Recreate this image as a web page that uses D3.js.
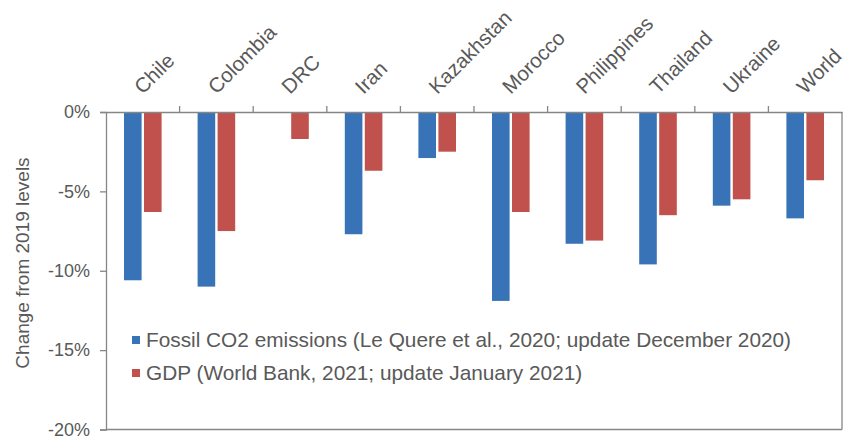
<!DOCTYPE html>
<html>
<head>
<meta charset="utf-8">
<script src="https://cdn.jsdelivr.net/npm/d3@7"></script>
<style>
  body { margin: 0; background: #fff; }
  svg { font-family: "Liberation Sans", Arial, sans-serif; }
</style>
</head>
<body>
<svg width="847" height="437"></svg>
<script>
// chart data (% change from 2019)
const countries = ['Chile', 'Colombia', 'DRC', 'Iran', 'Kazakhstan', 'Morocco', 'Philippines', 'Thailand', 'Ukraine', 'World'];
const co2 = [-10.6, -11.0, 0, -7.7, -2.9, -11.9, -8.3, -9.6, -5.9, -6.7];
const gdp = [-6.3, -7.5, -1.7, -3.7, -2.5, -6.3, -8.1, -6.5, -5.5, -4.3];
const yTicks = [0, -5, -10, -15, -20];
const seriesNames = ['Fossil CO2 emissions (Le Quere et al., 2020; update December 2020)', 'GDP (World Bank, 2021; update January 2021)'];
const colors = ['#3873b8', '#c0514d'];

const svg = d3.select('svg');
const plotL = 106, plotR = 842, plotT = 112, plotB = 429.5;
const textColor = '#595959', lineColor = '#868686';

const x = d3.scaleBand().domain(countries).range([plotL, plotR]);
const inner = d3.scaleBand().domain([0, 1]).range([18, x.bandwidth() - 18]).paddingInner(0.12);
const y = d3.scaleLinear().domain([-20, 0]).range([plotB, plotT]);

// bars
[co2, gdp].forEach((vals, s) => {
    svg.append('g').selectAll('rect')
        .data(countries)
        .join('rect')
        .attr('x', (d) => x(d) + inner(s))
        .attr('y', y(0))
        .attr('width', inner.bandwidth())
        .attr('height', (d, i) => y(vals[i]) - y(0))
        .attr('fill', colors[s]);
});

// frame right and bottom
svg.append('line').attr('x1', plotR).attr('x2', plotR).attr('y1', plotT).attr('y2', plotB)
    .attr('stroke', lineColor).attr('stroke-width', 1.3);
svg.append('line').attr('x1', plotL).attr('x2', plotR).attr('y1', plotB).attr('y2', plotB)
    .attr('stroke', lineColor).attr('stroke-width', 1.3);

// y axis
const yAxis = svg.append('g')
    .attr('transform', `translate(${plotL},0)`)
    .call(d3.axisLeft(y).tickValues(yTicks).tickSize(6).tickPadding(10).tickFormat((d) => d + '%'));
yAxis.select('.domain').attr('stroke', lineColor).attr('stroke-width', 1.3);
yAxis.selectAll('.tick line').attr('stroke', lineColor).attr('stroke-width', 1.3);
yAxis.selectAll('.tick text').attr('fill', textColor).style('font-size', '18px')
    .style('font-family', '"Liberation Sans", Arial, sans-serif');

// x axis along zero line, ticks pointing up at category boundaries
const xAxis = svg.append('g')
    .attr('transform', `translate(0,${y(0)})`)
    .call(d3.axisTop(x).tickSize(0).tickFormat(''));
xAxis.select('.domain').attr('stroke', lineColor).attr('stroke-width', 1.3);
xAxis.selectAll('.tick').remove();
xAxis.selectAll('.bound')
    .data(countries.slice(1))
    .join('line')
    .attr('x1', (d) => x(d)).attr('x2', (d) => x(d))
    .attr('y1', 0).attr('y2', -6)
    .attr('stroke', lineColor).attr('stroke-width', 1.3);

// category labels
svg.append('g').selectAll('text')
    .data(countries)
    .join('text')
    .attr('transform', (d) => `translate(${x(d) + x.bandwidth() / 2},${plotT - 17}) rotate(-45)`)
    .attr('fill', textColor)
    .style('font-size', '20.5px')
    .text((d) => d);

// y title
svg.append('text')
    .attr('transform', `translate(29,263) rotate(-90)`)
    .attr('text-anchor', 'middle')
    .attr('fill', textColor)
    .style('font-size', '19px')
    .text('Change from 2019 levels');

// legend
const legend = svg.append('g');
seriesNames.forEach((name, i) => {
    const ly = 340 + i * 33;
    legend.append('rect').attr('x', 132).attr('y', ly - 4).attr('width', 8).attr('height', 8).attr('fill', colors[i]);
    legend.append('text').attr('x', 146).attr('y', ly).attr('dy', '0.35em')
        .attr('fill', textColor).style('font-size', '20.8px').text(name);
});
</script>
</body>
</html>
